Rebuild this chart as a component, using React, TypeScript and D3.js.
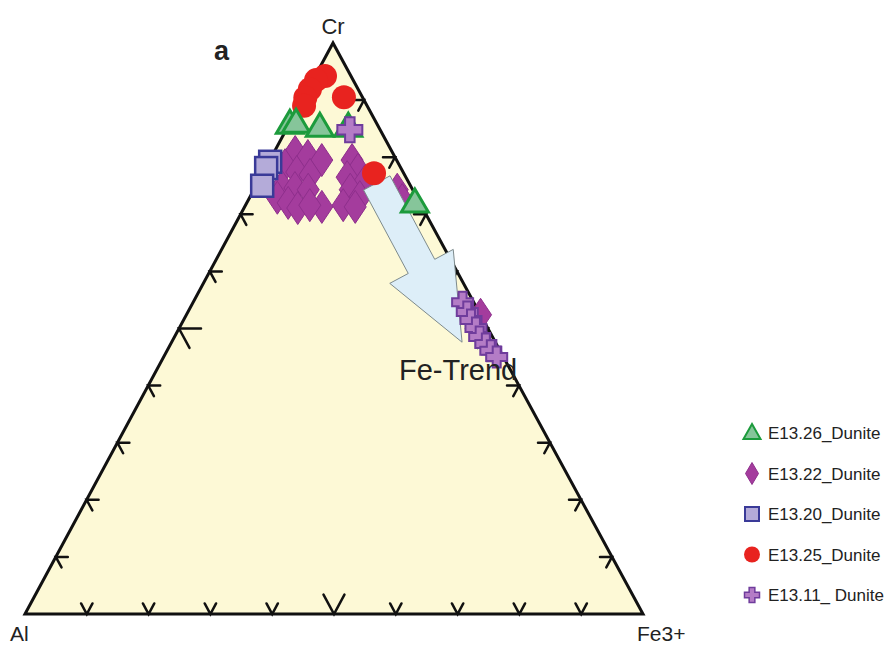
import React from "react";
import * as d3 from "d3";

// Spinel compositions as [Cr, Al, Fe3+] in percent
const e1326: number[][] = [
  [85.8, 14.1, 0.1], [86.0, 13.0, 1.0], [85.3, 9.5, 5.2], [85.3, 4.9, 9.8], [72.0, 0.8, 27.2],
];
const e1322: number[][] = [
  [80.9, 15.7, 3.4], [80.2, 14.0, 5.8], [79.5, 12.1, 8.4], [78.6, 18.5, 2.9], [77.4, 17.2, 5.4],
  [76.9, 15.3, 7.8], [74.8, 20.9, 4.3], [74.6, 18.9, 6.5], [74.3, 16.9, 8.8], [72.9, 22.6, 4.5],
  [72.0, 21.3, 6.7], [71.1, 20.2, 8.7], [71.3, 16.2, 12.5], [71.6, 18.0, 10.4], [79.5, 7.2, 13.3],
  [77.8, 7.1, 15.1], [76.5, 9.5, 14.0], [75.7, 7.1, 17.2], [74.3, 10.1, 15.6], [73.0, 9.2, 17.8],
  [71.6, 12.6, 15.8], [71.3, 8.8, 17.9], [74.3, 2.5, 23.2], [72.5, 2.6, 24.9], [52.4, 0.0, 47.6],
];
const e1320: number[][] = [
  [79.2, 20.6, 0.2], [78.1, 21.8, 0.1], [75.0, 24.0, 1.0],
];
const e1325: number[][] = [
  [94.2, 4.2, 1.6], [93.5, 6.0, 0.5], [91.9, 7.8, 0.3], [90.4, 9.3, 0.3], [89.0, 10.2, 0.8],
  [90.5, 3.0, 6.5], [77.2, 4.8, 18.0],
];
const e1311: number[][] = [
  [84.8, 4.9, 10.3], [54.6, 1.8, 43.6], [52.9, 1.9, 45.2], [51.5, 2.0, 46.5], [50.1, 1.9, 48.0],
  [48.5, 2.1, 49.4], [47.3, 1.7, 51.0], [46.1, 1.5, 52.4], [45.0, 1.1, 53.9],
];
// Fe-trend arrow: start and end compositions [Cr, Al, Fe3+]
const trendFrom = [75.5, 5.2, 19.3];
const trendTo = [47.6, 5.4, 47.0];

const legendLabels = [
  "E13.26_Dunite", "E13.22_Dunite", "E13.20_Dunite", "E13.25_Dunite", "E13.11_ Dunite",
];
const tickSteps = d3.range(10, 100, 10);

const FONT = "'Liberation Sans', Arial, Helvetica, sans-serif";

// Triangle corners on screen
const A = { x: 25, y: 614 };   // Al
const C = { x: 333, y: 43 };   // Cr
const F = { x: 643, y: 614 };  // Fe3+

const yCr = d3.scaleLinear().domain([0, 100]).range([A.y, C.y]);
const xCr = d3.scaleLinear().domain([0, 100]).range([0, C.x - A.x]);
const xFe = d3.scaleLinear().domain([0, 100]).range([0, F.x - A.x]);

function proj(p: number[]): [number, number] {
  const [cr, , fe] = p;
  return [A.x + xCr(cr) + xFe(fe), yCr(cr)];
}

function unit(from: { x: number; y: number }, to: { x: number; y: number }) {
  const dx = to.x - from.x, dy = to.y - from.y;
  const l = Math.hypot(dx, dy);
  return [dx / l, dy / l];
}

const triPath = (x: number, y: number, w: number, h: number) =>
  `M${x},${y - h * 0.6}L${x + w / 2},${y + h * 0.4}L${x - w / 2},${y + h * 0.4}Z`;
const diamondPath = (x: number, y: number, w: number, h: number) =>
  `M${x},${y - h / 2}L${x + w / 2},${y}L${x},${y + h / 2}L${x - w / 2},${y}Z`;
const crossPath = (x: number, y: number, s: number) => {
  const h = s / 2, t = s * 0.19;
  return `M${x - t},${y - h}H${x + t}V${y - t}H${x + h}V${y + t}H${x + t}V${y + h}H${x - t}V${y + t}H${x - h}V${y - t}H${x - t}Z`;
};

const GREEN_FILL = "#86c59a", GREEN_STROKE = "#1c9b3c";
const MAG_FILL = "#a43c9d", MAG_STROKE = "#8e2f8c";
const SQ_FILL = "#b4abd9", SQ_STROKE = "#3a3a98";
const RED = "#e8231f";
const CROSS_FILL = "#b47cc6", CROSS_STROKE = "#6f3c9c";

export default function App() {
  // ticks: each side carries arms in the directions of the two other grid families
  const ticks: string[] = [];
  const dAC = unit(A, C), dFC = unit(F, C), dAF = unit(A, F), dCF = unit(C, F), dFA = unit(F, A), dCA = unit(C, A);
  tickSteps.forEach((t) => {
    const len = t === 50 ? 22 : 12;
    const k = t / 100;
    // bottom (Al-Fe3+)
    const b = { x: A.x + k * (F.x - A.x), y: A.y };
    ticks.push(`M${b.x + dFC[0] * len},${b.y + dFC[1] * len}L${b.x},${b.y}L${b.x + dAC[0] * len},${b.y + dAC[1] * len}`);
    // left (Al-Cr)
    const l = { x: A.x + k * (C.x - A.x), y: A.y + k * (C.y - A.y) };
    ticks.push(`M${l.x + dAF[0] * len},${l.y + dAF[1] * len}L${l.x},${l.y}L${l.x + dCF[0] * len},${l.y + dCF[1] * len}`);
    // right (Fe3+-Cr)
    const r = { x: F.x + k * (C.x - F.x), y: F.y + k * (C.y - F.y) };
    ticks.push(`M${r.x + dFA[0] * len},${r.y + dFA[1] * len}L${r.x},${r.y}L${r.x + dCA[0] * len},${r.y + dCA[1] * len}`);
  });

  // block arrow along the Fe trend
  const [tx, ty] = proj(trendFrom);
  const [hx, hy] = proj(trendTo);
  const L = Math.hypot(hx - tx, hy - ty);
  const ux = (hx - tx) / L, uy = (hy - ty) / L;
  const nx = -uy, ny = ux;
  const shaftW = 15, headW = 36, headL = 86;
  const bx = hx - ux * headL, by = hy - uy * headL;
  const arrowPts: [number, number][] = [
    [tx + nx * shaftW, ty + ny * shaftW],
    [bx + nx * shaftW, by + ny * shaftW],
    [bx + nx * headW, by + ny * headW],
    [hx, hy],
    [bx - nx * headW, by - ny * headW],
    [bx - nx * shaftW, by - ny * shaftW],
    [tx - nx * shaftW, ty - ny * shaftW],
  ];
  const arrowD = d3.line()(arrowPts) + "Z";

  const legendY = d3.range(5).map((i) => 433 + i * 40.5);

  return (
    <svg width={891} height={646} style={{ position: "absolute", left: 0, top: 0, background: "#fff" }}>
      <path d={`M${A.x},${A.y}L${C.x},${C.y}L${F.x},${F.y}Z`} fill="#fdf9d6" stroke="none" />
      <g stroke="#111" strokeWidth={2.5} fill="none" strokeLinecap="round">
        {ticks.map((d, i) => <path key={i} d={d} />)}
      </g>
      <path d={`M${A.x},${A.y}L${C.x},${C.y}L${F.x},${F.y}Z`} fill="none" stroke="#111" strokeWidth={3} strokeLinejoin="miter" />

      <g>
        {e1322.map((p, i) => {
          const [x, y] = proj(p);
          return <path key={i} d={diamondPath(x, y, 22, 33)} fill={MAG_FILL} stroke={MAG_STROKE} strokeWidth={1} />;
        })}
      </g>
      <g>
        {e1320.map((p, i) => {
          const [x, y] = proj(p);
          return <rect key={i} x={x - 11} y={y - 11} width={22} height={22} fill={SQ_FILL} stroke={SQ_STROKE} strokeWidth={2.5} />;
        })}
      </g>
      <path d={arrowD} fill="#ddeef8" stroke="#7d8a8c" strokeWidth={1} />
      <g>
        {e1325.map((p, i) => {
          const [x, y] = proj(p);
          return <circle key={i} cx={x} cy={y} r={12} fill={RED} />;
        })}
      </g>
      <g>
        {e1326.map((p, i) => {
          const [x, y] = proj(p);
          return <path key={i} d={triPath(x, y, 27, 23)} fill={GREEN_FILL} stroke={GREEN_STROKE} strokeWidth={3} strokeLinejoin="miter" />;
        })}
      </g>
      <g>
        {e1311.map((p, i) => {
          const [x, y] = proj(p);
          return <path key={i} d={crossPath(x, y, i === 0 ? 25 : 21)} fill={CROSS_FILL} stroke={CROSS_STROKE} strokeWidth={2} />;
        })}
      </g>

      <text x={399} y={380} fontFamily={FONT} fontSize={29} fill="#222">Fe-Trend</text>

      <text x={C.x} y={34} textAnchor="middle" fontFamily={FONT} fontSize={22} fill="#222">Cr</text>
      <text x={10} y={641} fontFamily={FONT} fontSize={21} fill="#222">Al</text>
      <text x={637} y={641} fontFamily={FONT} fontSize={21} fill="#222">Fe3+</text>
      <text x={214} y={60} fontFamily={FONT} fontSize={27} fontWeight="bold" fill="#222">a</text>

      <g>
        <path d={triPath(752, legendY[0], 17, 15)} fill={GREEN_FILL} stroke={GREEN_STROKE} strokeWidth={2} />
        <path d={diamondPath(752, legendY[1], 13, 22)} fill={MAG_FILL} stroke={MAG_STROKE} strokeWidth={1} />
        <rect x={745} y={legendY[2] - 7} width={14} height={14} fill={SQ_FILL} stroke={SQ_STROKE} strokeWidth={2} />
        <circle cx={752} cy={legendY[3]} r={8} fill={RED} />
        <path d={crossPath(752, legendY[4], 15)} fill={CROSS_FILL} stroke={CROSS_STROKE} strokeWidth={1.5} />
        {legendLabels.map((t, i) => (
          <text key={t} x={768} y={legendY[i] + 6} fontFamily={FONT} fontSize={17} fill="#222">{t}</text>
        ))}
      </g>
    </svg>
  );
}
